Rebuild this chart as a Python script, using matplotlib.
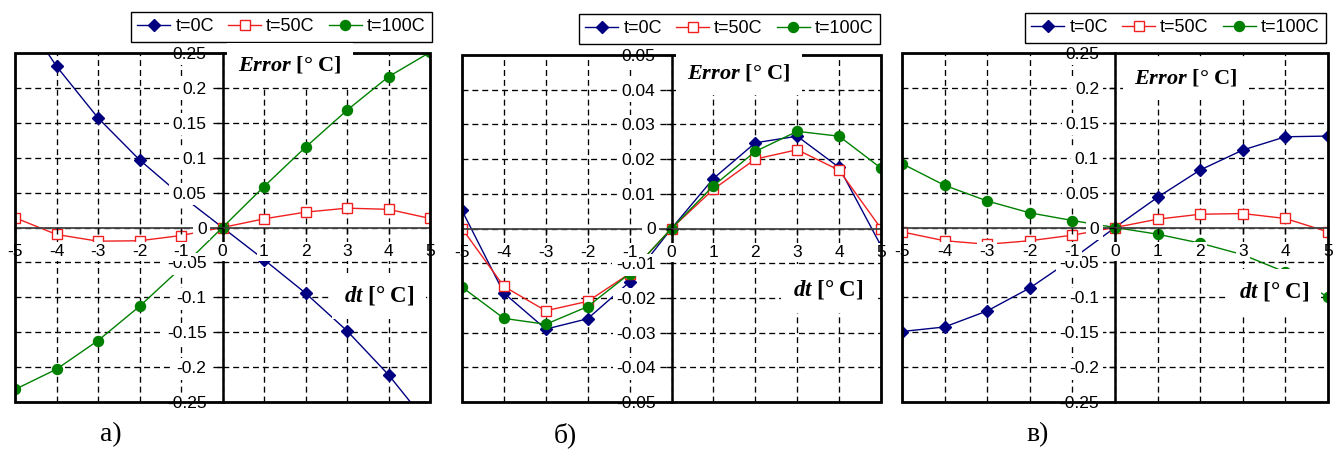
import matplotlib
matplotlib.use("Agg")
import matplotlib.pyplot as plt
from matplotlib.lines import Line2D
from matplotlib.patches import Rectangle

# dt values shared by all three panels
dt = [-5, -4, -3, -2, -1, 0, 1, 2, 3, 4, 5]
dt_labels = ["-5", "-4", "-3", "-2", "-1", "0", "1", "2", "3", "4", "5"]

# panel a)
a_ticks = [-0.25, -0.2, -0.15, -0.1, -0.05, 0, 0.05, 0.1, 0.15, 0.2, 0.25]
a_t0 = [0.32, 0.231, 0.157, 0.097, 0.046, 0, -0.046, -0.094, -0.148, -0.211, -0.285]
a_t50 = [0.014, -0.010, -0.0196, -0.019, -0.0115, 0, 0.0124, 0.022, 0.0277, 0.026, 0.013]
a_t100 = [-0.232, -0.203, -0.162, -0.113, -0.058, 0, 0.0587, 0.115, 0.168, 0.216, 0.251]

# panel б)
b_ticks = [-0.05, -0.04, -0.03, -0.02, -0.01, 0, 0.01, 0.02, 0.03, 0.04, 0.05]
b_t0 = [0.0052, -0.0186, -0.029, -0.026, -0.0154, 0, 0.0144, 0.0247, 0.0266, 0.0176, -0.005]
b_t50 = [0.0, -0.0167, -0.0237, -0.021, -0.013, 0, 0.0113, 0.020, 0.0227, 0.0168, 0.0]
b_t100 = [-0.0169, -0.0259, -0.0276, -0.0225, -0.013, 0, 0.0123, 0.0222, 0.028, 0.0266, 0.0174]

# panel в)
c_ticks = a_ticks
c_t0 = [-0.149, -0.1425, -0.1195, -0.0867, -0.045, 0, 0.0433, 0.0824, 0.111, 0.130, 0.131]
c_t50 = [-0.0063, -0.019, -0.024, -0.019, -0.011, 0, 0.0119, 0.019, 0.020, 0.0129, -0.0063]
c_t100 = [0.0915, 0.0604, 0.038, 0.021, 0.010, 0, -0.0096, -0.0224, -0.039, -0.064, -0.0996]

series_names = ["t=0C", "t=50C", "t=100C"]
captions = ["а)", "б)", "в)"]

NAVY = "#000080"
RED = "#f02020"
GREEN = "#008000"

SANS = "Liberation Sans"
SERIF = "Liberation Serif"

plt.rcParams["font.family"] = SANS
plt.rcParams["xtick.labelsize"] = 12.5
plt.rcParams["ytick.labelsize"] = 12.5
plt.rcParams["mathtext.fontset"] = "custom"
plt.rcParams["mathtext.bfit"] = "Liberation Serif:bold:italic"
plt.rcParams["mathtext.it"] = "Liberation Serif:italic"
plt.rcParams["mathtext.bf"] = "Liberation Serif:bold"
plt.rcParams["mathtext.rm"] = "Liberation Serif"


def series_style(i):
    if i == 0:
        return dict(color=NAVY, lw=1.0, marker="D", ms=6.2, mfc=NAVY, mec=NAVY)
    if i == 1:
        return dict(color=RED, lw=1.0, marker="s", ms=6.8, mfc="white", mec=RED, mew=1.0)
    return dict(color=GREEN, lw=1.0, marker="o", ms=7.2, mfc=GREEN, mec=GREEN)


def draw_panel(ax, yticks, values, err_pos, dt_pos, legend_anchor):
    ax.set_xlim(dt[0], dt[-1])
    ax.set_ylim(yticks[0], yticks[-1])

    # dashed grid drawn by hand so it sits under the curves
    grid_style = dict(color="black", lw=0.95, ls=(0, (4.5, 3)), zorder=1)
    for v in dt:
        ax.axvline(v, **grid_style)
    for v in yticks:
        ax.axhline(v, **grid_style)

    for i, ys in enumerate(values):
        ax.plot(dt, ys, zorder=2, **series_style(i))

    # axes crossing at the origin, plus an outer frame
    for side in ("top", "right"):
        ax.spines[side].set_visible(False)
    ax.spines["left"].set_position(("data", 0))
    ax.spines["bottom"].set_position(("data", 0))
    ax.spines["left"].set_linewidth(1.8)
    ax.spines["bottom"].set_linewidth(1.3)
    ax.spines["bottom"].set_color("#444444")
    ax.add_patch(Rectangle((0, 0), 1, 1, transform=ax.transAxes, fill=False,
                           ec="black", lw=2.0, zorder=4, clip_on=False))

    ax.set_axisbelow(False)
    ax.xaxis.set_zorder(2.7)
    ax.yaxis.set_zorder(2.6)
    ax.set_xticks(dt)
    ax.set_xticklabels(dt_labels)
    ax.set_yticks(yticks)
    ax.set_yticklabels([f"{v:g}" for v in yticks])
    ax.tick_params(axis="x", direction="out", length=4, width=1, pad=7.8)
    ax.tick_params(axis="y", direction="out", length=4, width=1, pad=7.5)

    box = dict(boxstyle="square,pad=0.5", facecolor="white", edgecolor="none")
    ax.text(err_pos[0], err_pos[1],
            r"$\mathbfit{Error}$" + " [° C]",
            transform=ax.transAxes, ha="center", va="center",
            fontsize=16, fontfamily=SERIF, fontweight="bold",
            bbox=box, zorder=10, clip_on=False)
    ax.text(dt_pos[0], dt_pos[1],
            r"$\mathbfit{dt}$" + " [° C]",
            transform=ax.transAxes, ha="center", va="center",
            fontsize=16.5, fontfamily=SERIF, fontweight="bold",
            bbox=box, zorder=10, clip_on=False)

    handles = [Line2D([], [], **series_style(i)) for i in range(3)]
    leg = ax.legend(handles, series_names, loc="upper right",
                    bbox_to_anchor=legend_anchor, bbox_transform=fig.transFigure,
                    ncol=3, frameon=True, fancybox=False, framealpha=1,
                    edgecolor="black", borderaxespad=0, borderpad=0.35,
                    handlelength=1.8, handletextpad=0.3, columnspacing=0.8,
                    prop={"family": SANS, "size": 13})
    leg.get_frame().set_linewidth(1.0)


fig = plt.figure(figsize=(13.36, 4.5), dpi=100, facecolor="white")

ax_a = fig.add_axes([15 / 1336, 48 / 450, 415 / 1336, 349 / 450])
ax_b = fig.add_axes([462 / 1336, 48 / 450, 419 / 1336, 347 / 450])
ax_c = fig.add_axes([902 / 1336, 48 / 450, 426 / 1336, 349 / 450])

draw_panel(ax_a, a_ticks, [a_t0, a_t50, a_t100], (0.663, 0.966), (0.877, 0.304),
           (432 / 1336, 1 - 12 / 450))
draw_panel(ax_b, b_ticks, [b_t0, b_t50, b_t100], (0.661, 0.948), (0.873, 0.323),
           (880 / 1336, 1 - 14 / 450))
draw_panel(ax_c, c_ticks, [c_t0, c_t50, c_t100], (0.667, 0.928), (0.873, 0.316),
           (1326 / 1336, 1 - 13 / 450))

for x, text in zip([111, 565, 1038], captions):
    fig.text(x / 1336, 1 - 435 / 450, text, ha="center", va="center",
             fontsize=20, fontfamily=SERIF)

# tick labels get a white backing so they mask grid and curves behind them
fig.canvas.draw()
for ax in (ax_a, ax_b, ax_c):
    for tick in ax.xaxis.get_major_ticks():
        tick.label1.set_bbox(dict(facecolor="white", edgecolor="none", pad=1.5))
    for tick in ax.yaxis.get_major_ticks():
        tick.label1.set_bbox(dict(facecolor="white", edgecolor="none", pad=2.5))

fig.savefig("out.png", dpi=100, facecolor="white")
